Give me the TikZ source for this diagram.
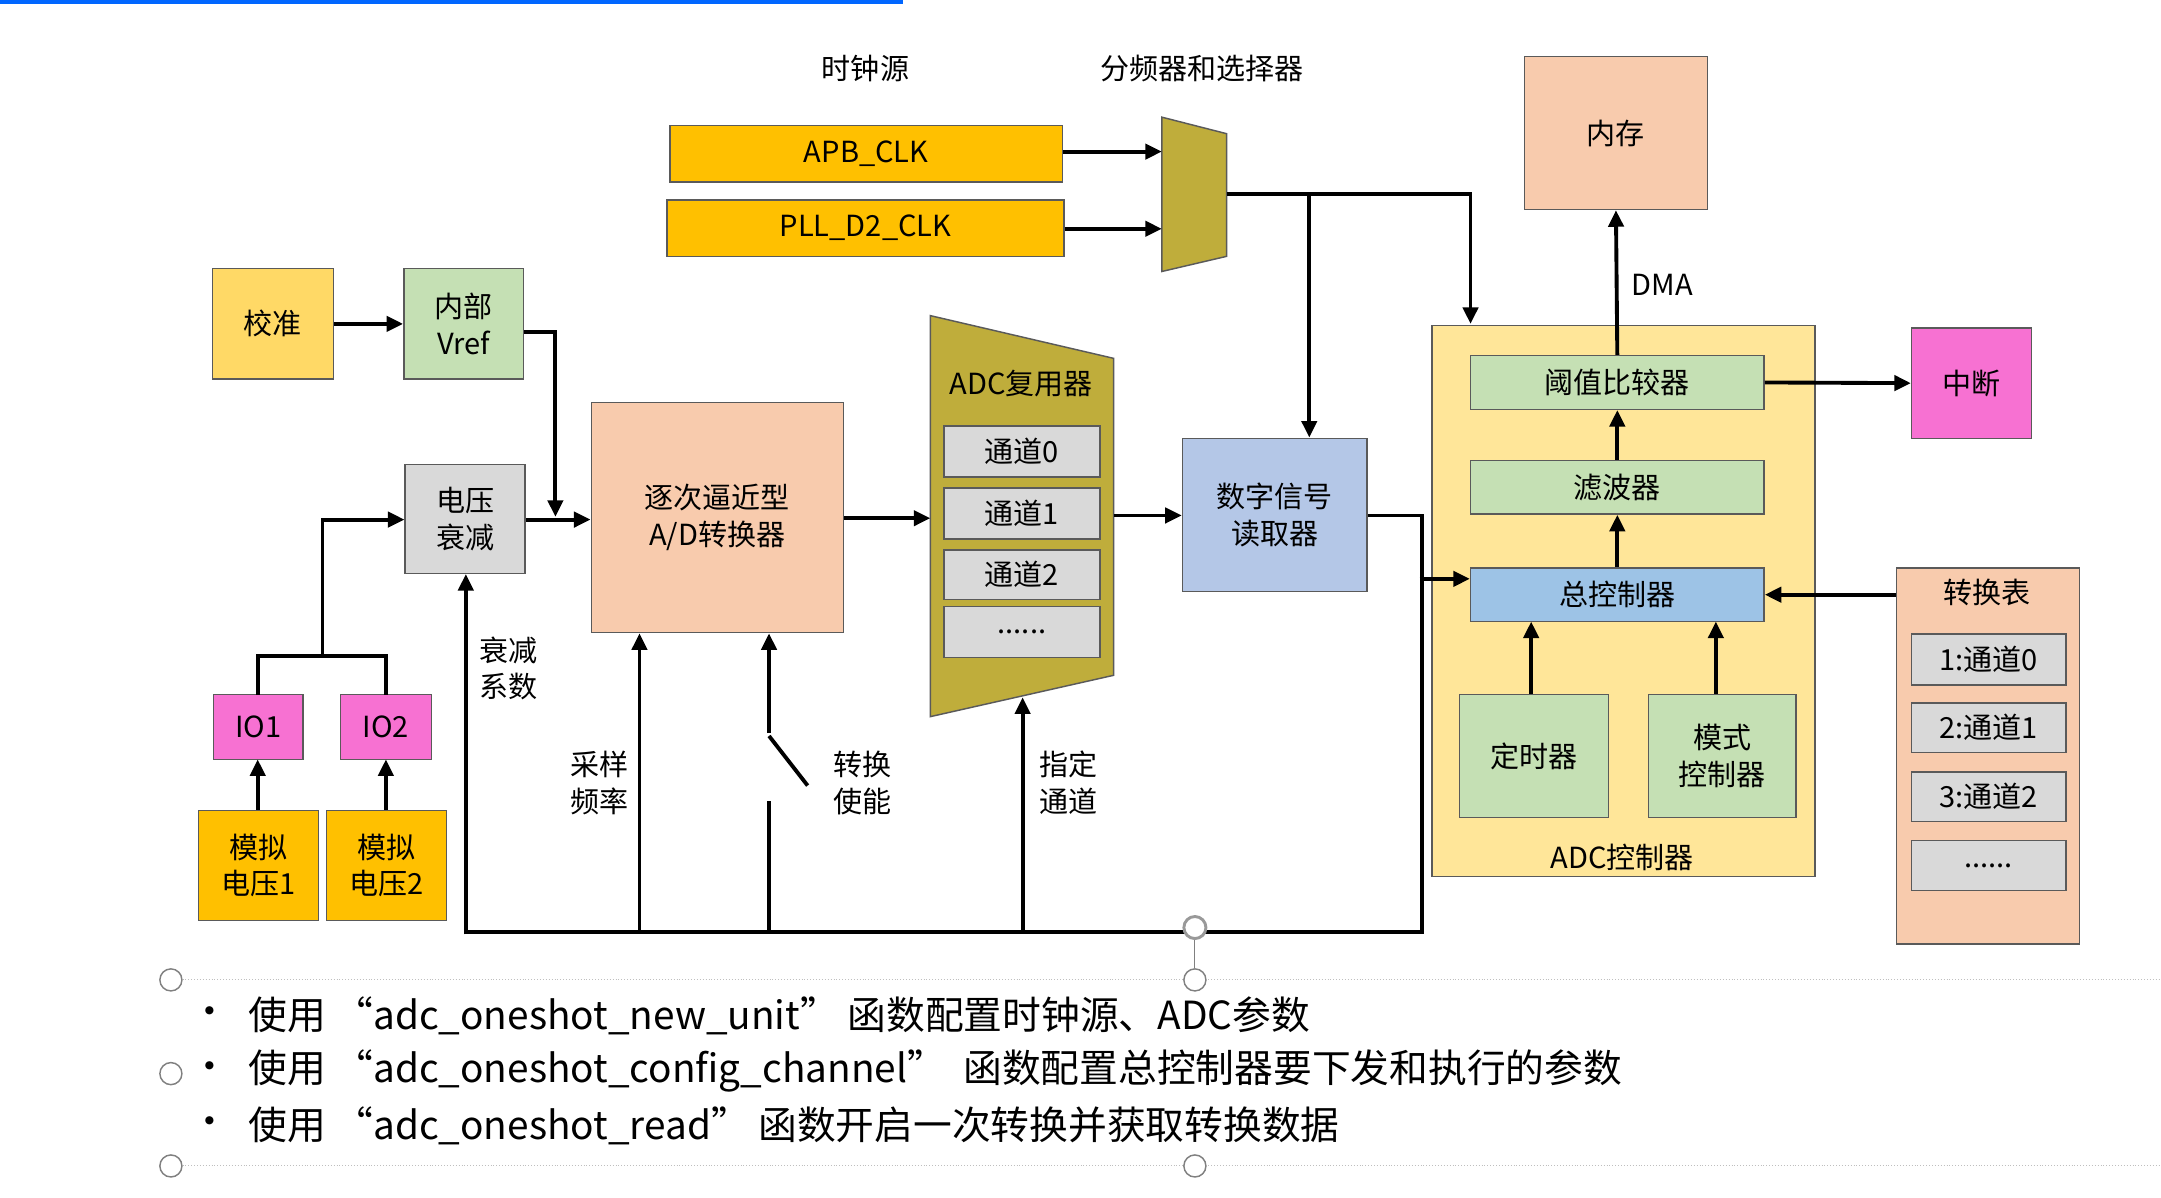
\documentclass[tikz,border=0pt]{standalone}
\usepackage{fontspec}
\setmainfont{Noto Sans CJK SC}
\usetikzlibrary{arrows.meta}
\definecolor{cOr}{HTML}{FFC000}
\definecolor{cPe}{HTML}{F8CBAD}
\definecolor{cYe}{HTML}{FFD966}
\definecolor{cGr}{HTML}{C5E0B4}
\definecolor{cGy}{HTML}{D9D9D9}
\definecolor{cBl}{HTML}{B4C7E7}
\definecolor{cCb}{HTML}{9DC3E6}
\definecolor{cBg}{HTML}{FFE699}
\definecolor{cPk}{HTML}{F771D2}
\definecolor{cOl}{HTML}{BFAD3B}
\definecolor{cBd}{HTML}{5A5A5A}
\newcommand\bx[7]{\node[box,fill=#6,minimum width={(#4-#2)*0.05cm},minimum height={(#5-#3)*0.05cm}] (#1) at ({(#2+#4)/2},{(#3+#5)/2}) {#7};}
\begin{document}
\begin{tikzpicture}[x=0.05cm,y=-0.05cm,
  box/.style={draw=cBd,line width=1.5pt,inner sep=0pt,align=center,font=\fontsize{30}{38}\selectfont},
  lbl/.style={align=center,font=\fontsize{30}{38}\selectfont,inner sep=0pt},
  wire/.style={line width=4pt},
  arr/.style={line width=4pt,-{Triangle[length=0.6cm,width=0.55cm]}},
  hnd/.style={draw=gray,line width=1.5pt,fill=white,circle,minimum size=0.8cm,inner sep=0pt}]
\useasboundingbox (0,0) rectangle (1568,869);
\fill[white] (0,0) rectangle (1568,869);
\draw[line width=5pt,color=blue!60!cyan] (0,1) -- (655,1);
% top labels
\node[lbl] (t1) at (628,50) {时钟源};
\node[lbl] (t2) at (872,50) {分频器和选择器};
\bx{apb}{486}{91}{771}{132}{cOr}{APB\_CLK}
\bx{pll}{484}{145}{772}{186}{cOr}{PLL\_D2\_CLK}
\fill[cOl,draw=cBd,line width=1.5pt] (843,85) -- (890,97) -- (890,186) -- (843,197) -- cycle;
\coordinate (muxa) at (843,110); \coordinate (muxb) at (843,166); \coordinate (muxo) at (890,141);
\draw[arr] (apb.east |- muxa) -- (muxa);
\draw[arr] (pll.east |- muxb) -- (muxb);
\bx{mem}{1106}{41}{1239}{152}{cPe}{内存}
% ADC controller
\bx{ctl}{1039}{236}{1317}{636}{cBg}{}
\node[lbl] (ctll) at (1177,622) {ADC控制器};
\bx{thr}{1067}{258}{1280}{297}{cGr}{阈值比较器}
\bx{flt}{1067}{334}{1280}{373}{cGr}{滤波器}
\bx{mc}{1067}{412}{1280}{451}{cCb}{总控制器}
\bx{tim}{1059}{504}{1167}{593}{cGr}{定时器}
\bx{mod}{1196}{504}{1303}{593}{cGr}{模式\\控制器}
\bx{irq}{1387}{238}{1474}{318}{cPk}{中断}
\draw[arr] (thr.north) -- (mem.south);
\node[lbl] (dma) at (1206,207) {DMA};
\draw[arr] (flt.north) -- (thr.south);
\draw[arr] (mc.north) -- (flt.south);
\draw[arr] (thr.east) -- (irq.west);
\draw[arr] (tim.north -| 1111,0) -- (1111,451);
\draw[arr] (mod.north -| 1245,0) -- (1245,451);
% table
\bx{tab}{1376}{412}{1509}{685}{cPe}{}
\node[lbl] (tabl) at (1442,430) {转换表};
\bx{e1}{1387}{460}{1499}{497}{cGy}{1:通道0}
\bx{e2}{1387}{510}{1499}{546}{cGy}{2:通道1}
\bx{e3}{1387}{560}{1499}{596}{cGy}{3:通道2}
\bx{e4}{1387}{610}{1499}{646}{cGy}{......}
\draw[arr] (tab.west |- mc.east) -- (mc.east);
% left side
\bx{cal}{154}{195}{242}{275}{cYe}{校准}
\bx{vref}{293}{195}{380}{275}{cGr}{内部\\Vref}
\bx{att}{294}{337}{381}{416}{cGy}{电压\\衰减}
\bx{sar}{429}{292}{612}{459}{cPe}{逐次逼近型\\A/D转换器}
\draw[arr] (cal.east) -- (vref.west);
\draw[arr] (vref.east |- 0,241) -- (403,241) -- (403,375);
\draw[arr] (att.east |- 0,377) -- (sar.west |- 0,377);
% ADC mux
\fill[cOl,draw=cBd,line width=1.5pt] (675,229) -- (808,260) -- (808,490) -- (675,520) -- cycle;
\node[lbl] (muxl) at (741,278) {ADC复用器};
\bx{c0}{685}{309}{798}{346}{cGy}{通道0}
\bx{c1}{685}{354}{798}{391}{cGy}{通道1}
\bx{c2}{685}{399}{798}{435}{cGy}{通道2}
\bx{c3}{685}{440}{798}{477}{cGy}{......}
\draw[arr] (sar.east |- 0,376) -- (675,376);
\bx{dsr}{858}{318}{992}{429}{cBl}{数字信号\\读取器}
\draw[arr] (808,374) -- (dsr.west |- 0,374);
\draw[wire] (dsr.east |- 0,374) -- (1032,374) -- (1032,420);
\draw[arr] (1030,420) -- (mc.west |- 0,420);
% clock output
\draw[arr] (muxo) -- (1067,141) -- (1067,235);
\draw[arr] (950,141) -- (dsr.north -| 950,0);
% IO
\bx{io1}{155}{504}{220}{551}{cPk}{IO1}
\bx{io2}{247}{504}{313}{551}{cPk}{IO2}
\bx{v1}{144}{588}{231}{668}{cOr}{模拟\\电压1}
\bx{v2}{237}{588}{324}{668}{cOr}{模拟\\电压2}
\draw[arr] (v1.north -| 187,0) -- (187,551);
\draw[arr] (v2.north -| 280,0) -- (280,551);
\draw[wire] (187,504) -- (187,476) -- (280,476) -- (280,504);
\draw[arr] (234,477) -- (234,377) -- (att.west |- 0,377);
% bus
\draw[wire] (338,676) -- (1032,676) -- (1032,418);
\draw[arr] (338,678) -- (att.south -| 338,0);
\draw[arr] (464,676) -- (sar.south -| 464,0);
\draw[wire] (558,676) -- (558,581);
\draw[wire] (558,534) -- (586,570);
\draw[arr] (558,532) -- (sar.south -| 558,0);
\draw[arr] (742,676) -- (742,506);
\node[lbl] (l1) at (369,485) {衰减\\系数};
\node[lbl] (l2) at (435,568) {采样\\频率};
\node[lbl] (l3) at (626,568) {转换\\使能};
\node[lbl] (l4) at (775,568) {指定\\通道};
% handles and text frame
\draw[gray!50,line width=1pt,dotted] (124,711) -- (1568,711);
\draw[gray!50,line width=1pt,dotted] (124,846) -- (1568,846);
\node[hnd,line width=3pt,draw=gray!80] (h0) at (867,673) {};
\node[hnd] (h1) at (124,711) {};
\node[hnd] (h2) at (867,711) {};
\node[hnd] (h3) at (124,779) {};
\node[hnd] (h4) at (124,846) {};
\node[hnd] (h5) at (867,846) {};
\draw[gray,line width=1pt] (h0) -- (h2);
\begin{scope}[every node/.style={anchor=west,inner sep=0pt,font=\fontsize{40}{48}\selectfont}]
\node (b1) at (138,737) {•}; \node (s1) at (180,737) {使用 “adc\_oneshot\_new\_unit” 函数配置时钟源、ADC参数};
\node (b2) at (138,777) {•}; \node (s2) at (180,777) {使用 “adc\_oneshot\_config\_channel”\ \ 函数配置总控制器要下发和执行的参数};
\node (b3) at (138,817) {•}; \node (s3) at (180,817) {使用 “adc\_oneshot\_read” 函数开启一次转换并获取转换数据};
\end{scope}
\end{tikzpicture}
\end{document}
